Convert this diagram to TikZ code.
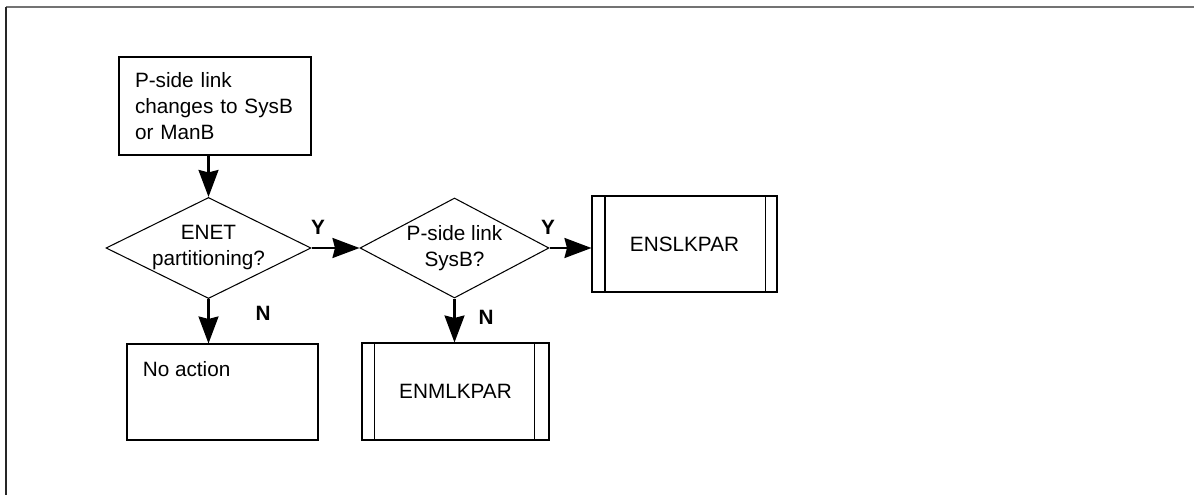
\documentclass[tikz,border=0pt]{standalone}
\usepackage{fontspec}
\setmainfont{Liberation Sans}
\usetikzlibrary{shapes.geometric, arrows.meta, positioning}

\tikzset{
  box/.style={draw, line width=0.6pt, minimum width=#1, minimum height=1.94cm, inner sep=0pt},
  decide/.style={draw, diamond, aspect=2, line width=0.6pt, minimum width=#1, minimum height=2cm, inner sep=0pt, align=center},
  flow/.style={line width=1.2pt, -{Stealth[length=0.54cm, width=0.4cm, inset=0.05cm]}},
  yn/.style={font=\bfseries, inner sep=0pt}
}

\begin{document}
\fontsize{11.8}{14.8}\selectfont
\begin{tikzpicture}
  \useasboundingbox (0,0) rectangle (23.88,9.9);
  % frame
  \draw[black!55, line width=1.3pt] (0.12,9.76) -- (23.88,9.76);
  \draw[black!85, line width=1.2pt] (0.12,9.76) -- (0.12,0);

  \node[box=3.84cm, minimum height=1.96cm, text width=3.2cm, inner xsep=0.32cm, align=left] (start) at (4.30,7.78)
    {P-side link\\changes to SysB\\or ManB};
  \node[decide=4.1cm] (enet) at (4.17,4.94) {ENET\\partitioning?};
  \node[decide=3.78cm] (sysb) at (9.09,4.94) {P-side link\\SysB?};
  \node[box=3.7cm, minimum height=1.92cm] (enslk) at (13.69,5.02) {ENSLKPAR};
  \node[box=3.74cm] (enmlk) at (9.11,2.07) {ENMLKPAR};
  \node[box=3.82cm, minimum height=1.92cm] (noact) at (4.45,2.06) {};
  \node[anchor=west, inner sep=0pt] (noacttext) at ([xshift=0.32cm, yshift=-0.52cm]noact.north west) {No action};

  % double sides of the predefined processes
  \draw[line width=0.6pt] ([xshift=0.27cm]enslk.north west) -- ([xshift=0.27cm]enslk.south west);
  \draw[line width=0.6pt] ([xshift=-0.25cm]enslk.north east) -- ([xshift=-0.25cm]enslk.south east);
  \draw[line width=0.6pt] ([xshift=0.26cm]enmlk.north west) -- ([xshift=0.26cm]enmlk.south west);
  \draw[line width=0.6pt] ([xshift=-0.3cm]enmlk.north east) -- ([xshift=-0.3cm]enmlk.south east);

  % connectors
  \draw[flow] (enet.north |- start.south) -- (enet.north);
  \draw[flow] (enet.east) -- (sysb.west);
  \draw[flow] (enet.south) -- (enet.south |- noact.north);
  \draw[flow] (sysb.east) -- (sysb.east -| enslk.west);
  \draw[flow] (sysb.south) -- (sysb.south |- enmlk.north);

  \node[yn] (yenet) at (6.36,5.36) {Y};
  \node[yn] (nenet) at (5.26,3.64) {N};
  \node[yn] (ysysb) at (10.96,5.36) {Y};
  \node[yn] (nsysb) at (9.72,3.56) {N};
\end{tikzpicture}
\end{document}
